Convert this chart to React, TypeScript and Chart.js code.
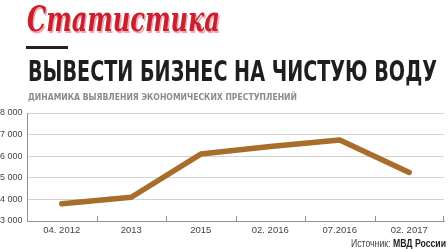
import React, { useEffect, useLayoutEffect, useRef } from "react";
import { Chart, registerables } from "chart.js";

Chart.register(...registerables);

// Data: economic crimes detected
const periods = ["04. 2012", "2013", "2015", "02. 2016", "07.2016", "02. 2017"];
const crimes = [3800, 4100, 6100, 6450, 6750, 5250];
const yTicks = [3000, 4000, 5000, 6000, 7000, 8000];

const LINE_COLOR = "#a86d2b";
const GRID_COLOR = "#d2d2d2";
const AXIS_COLOR = "#8b929a";
const LABEL_COLOR = "#444";

const fmt = (v: number) => String(v).replace(/\B(?=(\d{3})+(?!\d))/g, " ");

// Small tick marks standing on the x axis, at category boundaries
const innerTicks = {
  id: "innerTicks",
  afterDatasetsDraw(chart: any) {
    const x = chart.scales.x;
    const { ctx, chartArea } = chart;
    const n = periods.length;
    const step = (chartArea.right - chartArea.left) / n;
    ctx.save();
    ctx.strokeStyle = AXIS_COLOR;
    ctx.lineWidth = 1;
    for (let i = 1; i < n; i++) {
      const px = Math.round(x.getPixelForValue(i) - step / 2) + 0.5;
      ctx.beginPath();
      ctx.moveTo(px, chartArea.bottom);
      ctx.lineTo(px, chartArea.bottom - 5);
      ctx.stroke();
    }
    ctx.beginPath();
    ctx.moveTo(chartArea.right - 0.5, chartArea.bottom);
    ctx.lineTo(chartArea.right - 0.5, chartArea.bottom - 5);
    ctx.stroke();
    ctx.restore();
  },
};

// Stretches or squeezes a text span horizontally to a fixed width
function FitText(props: { width: number; style: React.CSSProperties; children: React.ReactNode }) {
  const ref = useRef<HTMLSpanElement>(null);
  useLayoutEffect(() => {
    const el = ref.current;
    if (!el) return;
    el.style.transform = "none";
    const w = el.getBoundingClientRect().width;
    if (w > 0) el.style.transform = `scaleX(${props.width / w})`;
  });
  return (
    <span
      ref={ref}
      style={{
        position: "absolute",
        whiteSpace: "nowrap",
        transformOrigin: "0 0",
        display: "inline-block",
        ...props.style,
      }}
    >
      {props.children}
    </span>
  );
}

export default function App() {
  const canvasRef = useRef<HTMLCanvasElement>(null);

  useEffect(() => {
    document.body.style.margin = "0";
    const canvas = canvasRef.current;
    if (!canvas) return;
    const chart = new Chart(canvas, {
      type: "line",
      data: {
        labels: periods,
        datasets: [
          {
            data: crimes,
            borderColor: LINE_COLOR,
            borderWidth: 5.5,
            borderCapStyle: "round",
            borderJoinStyle: "round",
            pointRadius: 0,
            tension: 0,
            fill: false,
          },
        ],
      },
      options: {
        animation: false,
        responsive: false,
        maintainAspectRatio: false,
        layout: { padding: { top: 113, right: 4, left: 0, bottom: 0 } },
        plugins: { legend: { display: false }, tooltip: { enabled: false } },
        scales: {
          x: {
            offset: true,
            grid: { display: false, drawTicks: false },
            border: { display: true, color: AXIS_COLOR, width: 1 },
            ticks: {
              padding: 4,
              color: LABEL_COLOR,
              font: { family: "Liberation Sans, Arial, sans-serif", size: 9.5 },
              maxRotation: 0,
              autoSkip: false,
            },
            afterFit: (s: any) => {
              s.height = 28;
            },
          },
          y: {
            min: 3000,
            max: 8000,
            afterBuildTicks: (s: any) => {
              s.ticks = yTicks.map((v) => ({ value: v }));
            },
            grid: { color: GRID_COLOR, drawTicks: false, lineWidth: 1 },
            border: { display: true, color: AXIS_COLOR, width: 1 },
            ticks: {
              crossAlign: "far",
              padding: 0,
              color: LABEL_COLOR,
              font: { family: "Liberation Sans, Arial, sans-serif", size: 9 },
              callback: (v: any) => fmt(Number(v)),
            },
            afterFit: (s: any) => {
              s.width = 27;
            },
          },
        },
      },
      plugins: [innerTicks],
    } as any);
    return () => chart.destroy();
  }, []);

  return (
    <div style={{ position: "absolute", left: 0, top: 0, width: 448, height: 249, background: "#fff", overflow: "hidden" }}>
      <canvas ref={canvasRef} width={448} height={249} style={{ position: "absolute", left: 0, top: 0 }} />
      <FitText
        width={193}
        style={{
          left: 27,
          top: -4,
          fontFamily: "'DejaVu Serif', serif",
          fontStyle: "italic",
          fontWeight: 700,
          fontSize: 36,
          lineHeight: "44px",
          color: "#c8202f",
          textShadow: "2px 2px 0 #f1a7ae",
        }}
      >
        Статистика
      </FitText>
      <div style={{ position: "absolute", left: 26, top: 46, width: 42, height: 3, background: "#222" }} />
      <FitText
        width={409}
        style={{
          left: 28,
          top: 56,
          fontFamily: "'Liberation Sans Narrow', 'DejaVu Sans Condensed', 'Liberation Sans', sans-serif",
          fontWeight: 700,
          fontSize: 28,
          lineHeight: "32px",
          color: "#1e1e1e",
        }}
      >
        ВЫВЕСТИ БИЗНЕС НА ЧИСТУЮ ВОДУ
      </FitText>
      <FitText
        width={269}
        style={{
          left: 28,
          top: 91,
          fontFamily: "'Liberation Sans Narrow', 'DejaVu Sans Condensed', 'Liberation Sans', sans-serif",
          fontWeight: 700,
          fontSize: 9.5,
          lineHeight: "12px",
          color: "#8a8a8a",
        }}
      >
        ДИНАМИКА ВЫЯВЛЕНИЯ ЭКОНОМИЧЕСКИХ ПРЕСТУПЛЕНИЙ
      </FitText>
      <FitText
        width={95}
        style={{
          left: 351,
          top: 237,
          fontSize: 10.5,
          lineHeight: "12px",
          fontFamily: "'Liberation Sans Narrow', 'Liberation Sans', sans-serif",
          color: LABEL_COLOR,
        }}
      >
        Источник: <b style={{ color: "#1e1e1e" }}>МВД России</b>
      </FitText>
    </div>
  );
}
